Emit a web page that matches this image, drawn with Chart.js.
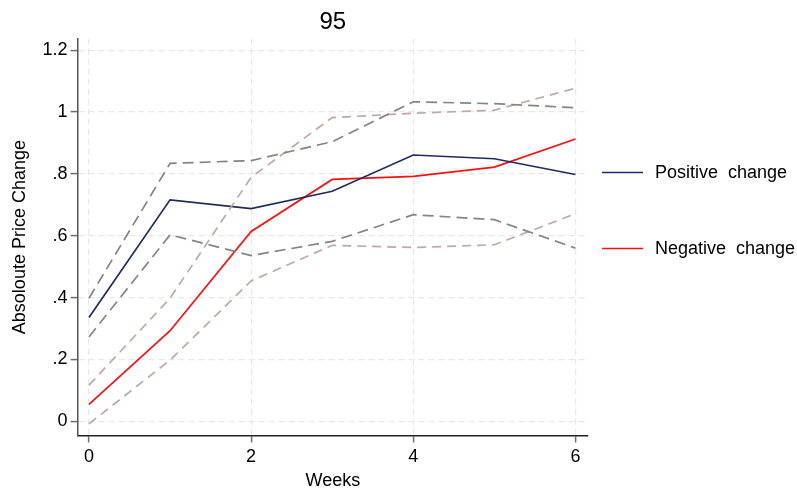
<!DOCTYPE html>
<html>
<head>
<meta charset="utf-8">
<script src="https://cdn.jsdelivr.net/npm/chart.js@4"></script>
<style>
  html, body { margin: 0; padding: 0; background: #fff; }
  #wrap { width: 797px; height: 491px; }
</style>
</head>
<body>
<div id="wrap"><canvas id="chart" width="797" height="491"></canvas></div>
<script>
// data
const weeks = [0, 1, 2, 3, 4, 5, 6];
const positiveChange = [0.336, 0.716, 0.688, 0.744, 0.861, 0.849, 0.798];
const positiveUpper = [0.398, 0.834, 0.843, 0.904, 1.033, 1.027, 1.014];
const positiveLower = [0.273, 0.603, 0.536, 0.582, 0.668, 0.652, 0.560];
const negativeChange = [0.055, 0.293, 0.614, 0.782, 0.792, 0.822, 0.913];
const negativeUpper = [0.117, 0.398, 0.789, 0.982, 0.996, 1.006, 1.077];
const negativeLower = [-0.008, 0.198, 0.454, 0.569, 0.562, 0.571, 0.671];
const xTicks = [0, 2, 4, 6];
const yTicks = [0, 0.2, 0.4, 0.6, 0.8, 1, 1.2];

const FONT = 'Liberation Sans, Arial, sans-serif';

function toPoints(values) {
    return weeks.map((w, i) => ({ x: w, y: values[i] }));
}

// Stata style tick labels: .2 instead of 0.2
function stataLabel(v) {
    let s = String(Math.round(v * 10) / 10);
    if (s.startsWith('0.')) s = s.substring(1);
    return s;
}

// legend drawn on the right, with only the two main series
const sideLegend = {
    id: 'sideLegend',
    afterDraw(chart) {
        const ctx = chart.ctx;
        const items = chart.data.datasets.filter(d => d.showInLegend);
        const ys = [172.5, 248.5];
        ctx.save();
        ctx.font = '18px ' + FONT;
        ctx.textBaseline = 'middle';
        ctx.fillStyle = '#000';
        items.forEach((d, i) => {
            ctx.strokeStyle = d.borderColor;
            ctx.lineWidth = 1.5;
            ctx.beginPath();
            ctx.moveTo(602, ys[i]);
            ctx.lineTo(643, ys[i]);
            ctx.stroke();
            ctx.fillText(d.label, 655, ys[i] + 1);
        });
        ctx.restore();
    }
};

const solid = (label, data, color) => ({
    label: label,
    data: toPoints(data),
    borderColor: color,
    borderWidth: 1.7,
    pointRadius: 0,
    tension: 0,
    fill: false,
    showInLegend: true
});

const dashed = (label, data, color, dash) => ({
    label: label,
    data: toPoints(data),
    borderColor: color,
    borderWidth: 1.7,
    borderDash: dash,
    pointRadius: 0,
    tension: 0,
    fill: false,
    showInLegend: false
});

new Chart(document.getElementById('chart'), {
    type: 'line',
    data: {
        datasets: [
            dashed('Positive upper', positiveUpper, '#858585', [11, 6]),
            dashed('Positive lower', positiveLower, '#858585', [11, 6]),
            dashed('Negative upper', negativeUpper, '#c2a7a7', [9, 6]),
            dashed('Negative lower', negativeLower, '#c2a7a7', [9, 6]),
            solid('Positive  change', positiveChange, '#1f2d5c'),
            solid('Negative  change', negativeChange, '#ff1010')
        ]
    },
    options: {
        responsive: false,
        animation: false,
        layout: {
            padding: { top: 0, right: 209, bottom: 0, left: 9 }
        },
        scales: {
            x: {
                type: 'linear',
                min: -0.14,
                max: 6.155,
                afterBuildTicks: axis => { axis.ticks = xTicks.map(v => ({ value: v })); },
                ticks: {
                    color: '#000',
                    font: { family: FONT, size: 18 },
                    padding: 4,
                    maxRotation: 0,
                    callback: v => String(v)
                },
                grid: {
                    color: '#e8e8e8',
                    lineWidth: 1.2,
                    drawTicks: true,
                    tickLength: 7,
                    tickColor: '#6e6e6e',
                    tickWidth: 1.5
                },
                border: { display: true, color: '#222', width: 1.5, dash: [6, 4] },
                title: {
                    display: true,
                    text: 'Weeks',
                    color: '#000',
                    font: { family: FONT, size: 18, lineHeight: 1.0 },
                    padding: { top: 0, bottom: 1 }
                }
            },
            y: {
                min: -0.0454,
                max: 1.2367,
                afterBuildTicks: axis => { axis.ticks = yTicks.map(v => ({ value: v })); },
                ticks: {
                    color: '#000',
                    font: { family: FONT, size: 18 },
                    padding: 3,
                    callback: v => stataLabel(v)
                },
                grid: {
                    color: '#e8e8e8',
                    lineWidth: 1.2,
                    drawTicks: true,
                    tickLength: 7,
                    tickColor: '#6e6e6e',
                    tickWidth: 1.5
                },
                border: { display: true, color: '#555', width: 1.5, dash: [6, 4] },
                title: {
                    display: true,
                    text: 'Absoloute Price Change',
                    color: '#000',
                    font: { family: FONT, size: 18 },
                    padding: { top: 0, bottom: 9 }
                }
            }
        },
        plugins: {
            legend: { display: false },
            tooltip: { enabled: false },
            title: {
                display: true,
                text: '95',
                color: '#000',
                fullSize: false,
                font: { family: FONT, size: 24, weight: 'normal' },
                padding: { top: 8, bottom: 2 }
            }
        }
    },
    plugins: [sideLegend]
});
</script>
</body>
</html>
